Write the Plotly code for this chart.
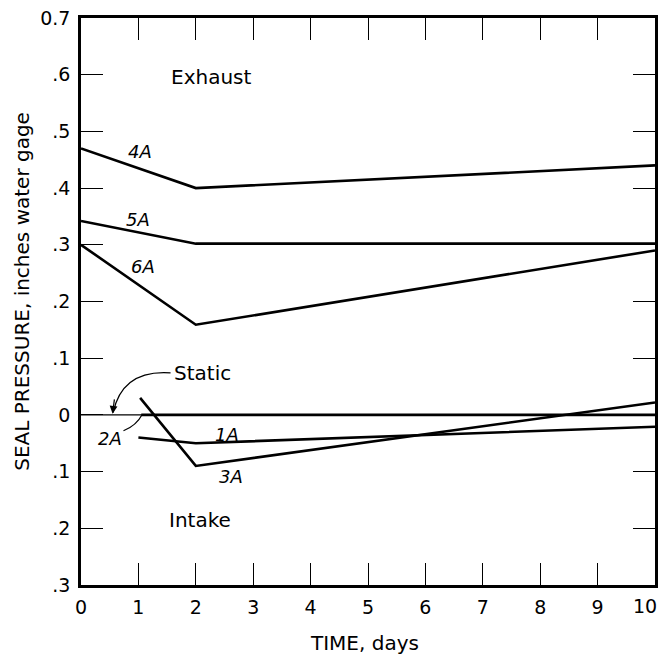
import plotly.graph_objects as go

# ---- data ----
days_4A = [0, 2, 10]
p_4A = [0.47, 0.40, 0.44]
days_5A = [0, 2, 10]
p_5A = [0.342, 0.302, 0.302]
days_6A = [0, 2, 10]
p_6A = [0.30, 0.159, 0.29]
days_static = [0, 10]
p_static = [0.0, 0.0]
days_2A = [1.05, 10]
p_2A = [0.0, 0.0]
days_1A = [1.0, 2, 10]
p_1A = [-0.04, -0.05, -0.021]
days_3A = [1.03, 2, 10]
p_3A = [0.03, -0.09, 0.022]

x_ticks = [0, 1, 2, 3, 4, 5, 6, 7, 8, 9, 10]
x_ticktext = ["0", "1", "2", "3", "4", "5", "6", "7", "8", "9", "10"]
y_ticks = [0.7, 0.6, 0.5, 0.4, 0.3, 0.2, 0.1, 0.0, -0.1, -0.2, -0.3]
y_ticktext = ["0.7", ".6", ".5", ".4", ".3", ".2", ".1", "0", ".1", ".2", ".3"]

FONT = "DejaVu Sans"
INK = "black"

fig = go.Figure()

def add_line(x, y, w=2.6):
    fig.add_trace(go.Scatter(x=x, y=y, mode="lines", line=dict(color=INK, width=w),
                             showlegend=False, hoverinfo="skip"))

add_line(days_static, p_static, 1.2)
add_line(days_2A, p_2A, 2.8)
add_line(days_1A, p_1A)
add_line(days_3A, p_3A)
add_line(days_4A, p_4A)
add_line(days_5A, p_5A)
add_line(days_6A, p_6A)

ann = []
def label(x, y, t, italic=True, size=18, xanchor="center"):
    ann.append(dict(x=x, y=y, xref="x", yref="y", text=("<i>%s</i>" % t) if italic else t,
                    showarrow=False, xanchor=xanchor, yanchor="middle",
                    font=dict(family=FONT, size=size, color=INK)))

label(1.02, 0.464, "4A")
label(0.99, 0.345, "5A")
label(1.08, 0.261, "6A")
label(0.50, -0.041, "2A")
label(2.55, -0.034, "1A")
label(2.62, -0.108, "3A")
label(1.53, 0.596, "Exhaust", italic=False, size=20, xanchor="left")
label(1.50, -0.185, "Intake", italic=False, size=20, xanchor="left")
label(1.58, 0.074, "Static", italic=False, size=20, xanchor="left")

# arrowhead for the Static leader
ann.append(dict(x=0.55, y=0.002, ax=0.585, ay=0.03, xref="x", yref="y", axref="x", ayref="y",
                text="", showarrow=True, arrowhead=2, arrowsize=1.3, arrowwidth=1.2,
                arrowcolor=INK))

# last x tick label sits slightly left of its tick (at the page edge)
ann.append(dict(x=x_ticks[-1], y=0, xref="x", yref="paper", text=x_ticktext[-1],
                showarrow=False, xanchor="center", yanchor="top", xshift=-10, yshift=-8,
                font=dict(family=FONT, size=19, color=INK)))

# axis titles
ann.append(dict(x=-0.102, y=0.518, xref="paper", yref="paper", text="SEAL PRESSURE, inches water gage",
                textangle=-90, showarrow=False, xanchor="center", yanchor="middle",
                font=dict(family=FONT, size=20, color=INK)))
ann.append(dict(x=0.494, y=-0.102, xref="paper", yref="paper", text="TIME, days",
                showarrow=False, xanchor="center", yanchor="middle",
                font=dict(family=FONT, size=20, color=INK)))

shapes = [
    dict(type="path", xref="x", yref="y",
         path="M 1.56 0.074 Q 0.72 0.08 0.56 0.004",
         line=dict(color=INK, width=1.2)),
    dict(type="path", xref="x", yref="y",
         path="M 0.74 -0.028 Q 0.97 -0.018 1.06 0.0",
         line=dict(color=INK, width=1.2)),
]

axis_common = dict(showline=True, linecolor=INK, linewidth=2.5, mirror="ticks",
                   ticks="inside", ticklen=22, tickwidth=1.4, tickcolor=INK,
                   showgrid=False, zeroline=False,
                   tickfont=dict(family=FONT, size=19, color=INK))

fig.update_layout(
    width=663, height=654,
    margin=dict(l=81, r=5, t=18, b=69),
    paper_bgcolor="white", plot_bgcolor="white",
    xaxis=dict(range=[0, 10], tickvals=x_ticks,
               ticktext=x_ticktext[:-1] + [""],
               ticklabelstandoff=3, **axis_common),
    yaxis=dict(range=[-0.3, 0.7], tickvals=y_ticks, ticktext=y_ticktext,
               ticklabelstandoff=4, **axis_common),
    annotations=ann, shapes=shapes,
)

fig.write_html("out.html")
